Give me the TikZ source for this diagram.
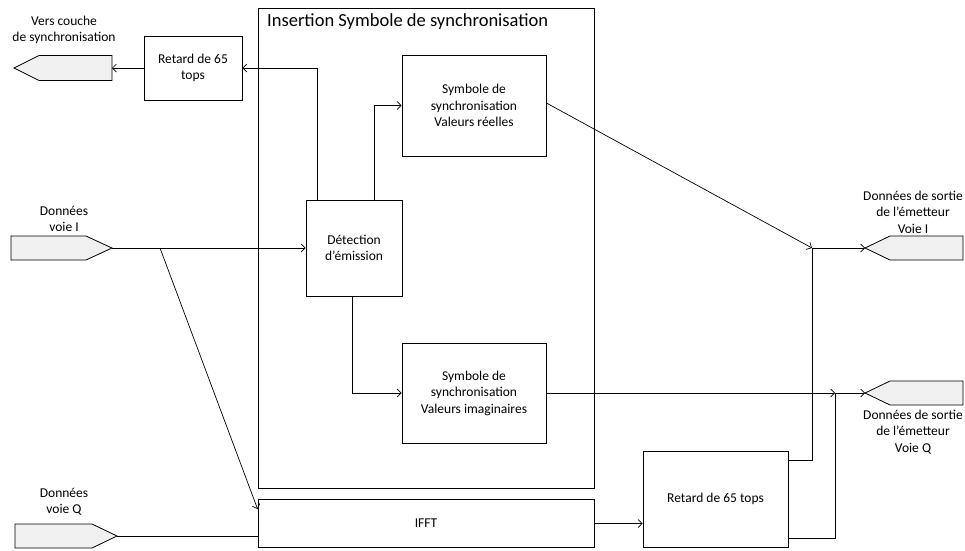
\documentclass[tikz,border=0pt]{standalone}
\usepackage{fontspec}
\setmainfont{Carlito}
\usetikzlibrary{arrows.meta,calc}
\definecolor{portfill}{RGB}{240,240,240}
\begin{document}
\begin{tikzpicture}[x=1pt,y=-1pt,
  every node/.style={font=\fontsize{13.5}{16.5}\selectfont},
  box/.style={draw,line width=0.8pt,rectangle,inner sep=0pt,align=center},
  port/.style={draw,line width=0.8pt,fill=portfill},
  lbl/.style={align=center,inner sep=0pt},
  conn/.style={line width=0.7pt},
  >={Straight Barb[length=4pt,width=8pt]}]
\useasboundingbox (0,0) rectangle (965,550);

% big frame
\node[box,minimum width=336pt,minimum height=480pt] (ins) at (426,248) {};
\node[anchor=west,inner sep=0pt,font=\fontsize{18.5}{22}\selectfont] (title) at (267,22) {Insertion Symbole de synchronisation};

% boxes
\node[box,minimum width=98pt,minimum height=64pt] (ret1) at (193,68) {Retard de 65\\tops};
\node[box,minimum width=144pt,minimum height=101pt] (reel) at (474,105.5) {Symbole de\\synchronisation\\Valeurs réelles};
\node[box,minimum width=96pt,minimum height=96pt] (det) at (354,248) {Détection\\d’émission};
\node[box,minimum width=144pt,minimum height=100pt] (imag) at (474,393) {Symbole de\\synchronisation\\Valeurs imaginaires};
\node[box,minimum width=336pt,minimum height=48pt] (ifft) at (426,523.5) {IFFT};
\node[box,minimum width=145pt,minimum height=96pt] (ret2) at (715.5,499) {Retard de 65 tops};

% ports
\draw[port] (112,55.5) -- (39,55.5) -- (14,68) -- (39,80.5) -- (112,80.5) -- cycle;
\coordinate (o0tip) at (14,68);
\coordinate (o0in) at (112,68);
\draw[port] (11,236) -- (86,236) -- (112,248) -- (86,260) -- (11,260) -- cycle;
\coordinate (iItip) at (112,248);
\draw[port] (15,524) -- (92,524) -- (117,536) -- (92,548) -- (15,548) -- cycle;
\coordinate (iQtip) at (117,536);
\draw[port] (963,236) -- (890,236) -- (865,248) -- (890,260) -- (963,260) -- cycle;
\coordinate (oItip) at (865,248);
\draw[port] (963,381) -- (890,381) -- (865,393) -- (890,405) -- (963,405) -- cycle;
\coordinate (oQtip) at (865,393);

% labels
\node[lbl] (l0) at (64,30) {Vers couche\\de synchronisation};
\node[lbl] (lI) at (64,219) {Données\\voie I};
\node[lbl] (lQ) at (64,502) {Données\\voie Q};
\node[lbl] (lOI) at (913,212) {Données de sortie\\de l’émetteur\\Voie I};
\node[lbl] (lOQ) at (913,432) {Données de sortie\\de l’émetteur\\Voie Q};

% junctions
\coordinate (br) at (160,248);
\coordinate (jI) at (812,248);
\coordinate (jQ) at (835,393);

% connectors
\draw[conn,->] (ret1.west) -- (o0in);
\draw[conn,->] ([xshift=12pt]det.north west) |- (ret1.east);
\draw[conn,->] ([xshift=20pt]det.north) |- (reel.west);
\draw[conn,->] ([xshift=-2pt]det.south) |- (imag.west);
\draw[conn,->] (iItip) -- (det.west);
\draw[conn,->] (br) -- ([yshift=-10pt]ifft.north west);
\draw[conn] (iQtip) -- (iQtip -| ifft.west);
\draw[conn,->] (ifft.east) -- (ifft.east -| ret2.west);
\draw[conn] ([yshift=-10pt]ret2.north east) -| (jI);
\draw[conn,->] ([yshift=2.5pt]reel.east) -- (jI);
\draw[conn,->] (jI) -- (oItip);
\draw[conn] ([yshift=9pt]ret2.south east) -| (jQ);
\draw[conn,->] (imag.east) -- (jQ);
\draw[conn,->] (jQ) -- (oQtip);
\end{tikzpicture}
\end{document}
